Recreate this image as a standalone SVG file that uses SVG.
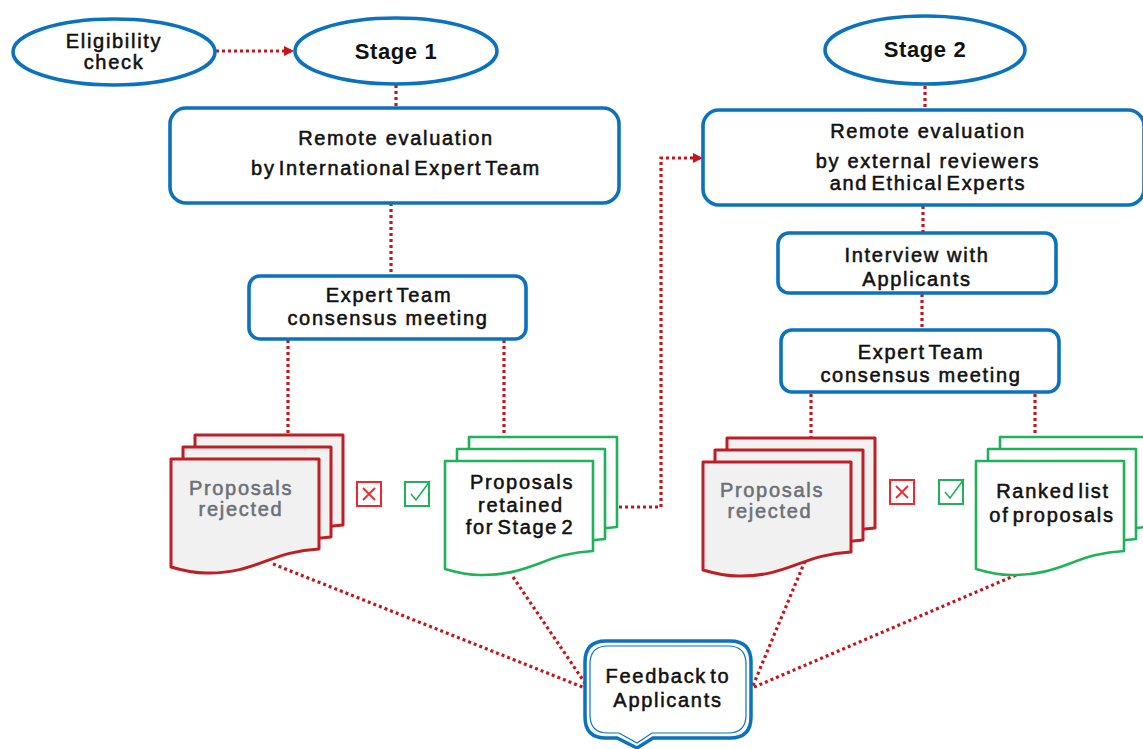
<svg xmlns="http://www.w3.org/2000/svg" xmlns:xlink="http://www.w3.org/1999/xlink" width="1143" height="749" viewBox="0 0 1143 749">
<style>
text{font-family:"Liberation Sans",Arial,sans-serif;font-size:20px;font-weight:400;fill:#111;text-anchor:middle;stroke:#111;stroke-width:.55;letter-spacing:1.7px}
.g{fill:#6b7078;stroke:#6b7078}
.t{word-spacing:-4px}
.s{font-size:22px;font-weight:700;stroke:none;letter-spacing:.6px}
.n{fill:#fff;stroke:#0b72bd;stroke-width:3.6}
.c{fill:none;stroke:#c4161c;stroke-width:3.2;stroke-dasharray:3 3}
.r{fill:#f1f1f1;stroke:#bf1e24;stroke-width:3;stroke-linejoin:round}
.v{fill:#fff;stroke:#1fb25a;stroke-width:2.6;stroke-linejoin:round}
</style>
<defs>
<marker id="a" markerWidth="11" markerHeight="11" refX="9" refY="5" orient="auto" markerUnits="userSpaceOnUse"><path d="M0 0L10 5L0 10Z" fill="#c4161c"/></marker>
<path id="d" d="M0 0H148V90C100 92 85 115 35 114C20 114 10 111 0 108Z"/>
</defs>
<g id="connectors">
<path class="c" d="M216 51H293" marker-end="url(#a)"/>
<path class="c" d="M396 85V108"/>
<path class="c" d="M391 203V276"/>
<path class="c" d="M288 340V434"/>
<path class="c" d="M504 340V437"/>
<path class="c" d="M619 507H661V158H702" marker-end="url(#a)"/>
<path class="c" d="M925 86V110"/>
<path class="c" d="M923 206V233"/>
<path class="c" d="M922 294V330"/>
<path class="c" d="M811 394V438"/>
<path class="c" d="M1035 394V437"/>
<path class="c" d="M273 564L585 688"/>
<path class="c" d="M513 577L585 683"/>
<path class="c" d="M805 561L752 688"/>
<path class="c" d="M1016 575L752 688"/>
</g>
<g id="eligibility"><ellipse class="n" cx="114" cy="52" rx="101" ry="33"/><text x="114" y="48">Eligibility</text><text x="114" y="69">check</text></g>
<g id="stage1"><ellipse class="n" cx="396" cy="51" rx="101" ry="33"/><text class="s" x="396" y="59">Stage 1</text></g>
<g id="stage2"><ellipse class="n" cx="925" cy="50" rx="100" ry="34"/><text class="s" x="925" y="57">Stage 2</text></g>
<g id="remote1"><rect class="n" x="170" y="108" width="449" height="95" rx="16"/><text x="396" y="145">Remote evaluation</text><text class="t" x="396" y="175">by International Expert Team</text></g>
<g id="consensus1"><rect class="n" x="249" y="276" width="277" height="63" rx="11"/><text class="t" x="389" y="302">Expert Team</text><text x="388" y="325">consensus meeting</text></g>
<g id="remote2"><rect class="n" x="703" y="110" width="441" height="95" rx="16"/><text x="928" y="138">Remote evaluation</text><text x="928" y="168">by external reviewers</text><text class="t" x="928" y="190">and Ethical Experts</text></g>
<g id="interview"><rect class="n" x="778" y="233" width="278" height="60" rx="11"/><text x="917" y="262">Interview with</text><text x="917" y="286">Applicants</text></g>
<g id="consensus2"><rect class="n" x="781" y="330" width="278" height="62" rx="11"/><text class="t" x="921" y="359">Expert Team</text><text x="921" y="382">consensus meeting</text></g>
<g id="rejected1" class="r"><use xlink:href="#d" x="195" y="435"/><use xlink:href="#d" x="183" y="447"/><use xlink:href="#d" x="171" y="459"/><text class="g" x="241" y="495">Proposals</text><text class="g" x="241" y="516">rejected</text></g>
<g id="retained" class="v"><use xlink:href="#d" x="469" y="437"/><use xlink:href="#d" x="457" y="449"/><use xlink:href="#d" x="445" y="461"/><text x="522" y="489">Proposals</text><text x="521" y="512">retained</text><text class="t" x="520" y="534">for Stage 2</text></g>
<g id="rejected2" class="r"><use xlink:href="#d" x="727" y="438"/><use xlink:href="#d" x="715" y="450"/><use xlink:href="#d" x="703" y="462"/><text class="g" x="772" y="497">Proposals</text><text class="g" x="770" y="518">rejected</text></g>
<g id="ranked" class="v"><use xlink:href="#d" x="1000" y="437"/><use xlink:href="#d" x="988" y="449"/><use xlink:href="#d" x="976" y="461"/><text class="t" x="1053" y="498">Ranked list</text><text class="t" x="1052" y="522">of proposals</text></g>
<g id="x1"><rect x="357" y="482" width="24" height="24" fill="#fff" stroke="#f0282d" stroke-width="2"/><path d="M363 488L375 500M375 488L363 500" stroke="#f0282d" stroke-width="1.8"/></g>
<g id="check1"><rect x="405" y="482" width="24" height="24" fill="#fff" stroke="#1fb25a" stroke-width="2"/><path d="M411 494L416 500L430 481" fill="none" stroke="#1fb25a" stroke-width="1.6"/></g>
<g id="x2"><rect x="890" y="480" width="24" height="24" fill="#fff" stroke="#f0282d" stroke-width="2"/><path d="M896 486L908 498M908 486L896 498" stroke="#f0282d" stroke-width="1.8"/></g>
<g id="check2"><rect x="939" y="480" width="24" height="24" fill="#fff" stroke="#1fb25a" stroke-width="2"/><path d="M945 492L950 498L964 479" fill="none" stroke="#1fb25a" stroke-width="1.6"/></g>
<g id="feedback">
<path d="M606 641H730Q751 641 751 662V717Q751 738 730 738H653L637 748L617 738H606Q585 738 585 717V662Q585 641 606 641Z" fill="#fff" stroke="#0b72bd" stroke-width="3.5"/>
<path d="M608 646H728Q746 646 746 664V715Q746 733 728 733H652L637 743L619 733H608Q590 733 590 715V664Q590 646 608 646Z" fill="#fff" stroke="#0b72bd" stroke-width="1.2"/>
<text class="t" x="668" y="683">Feedback to</text><text x="668" y="707">Applicants</text>
</g>
</svg>
